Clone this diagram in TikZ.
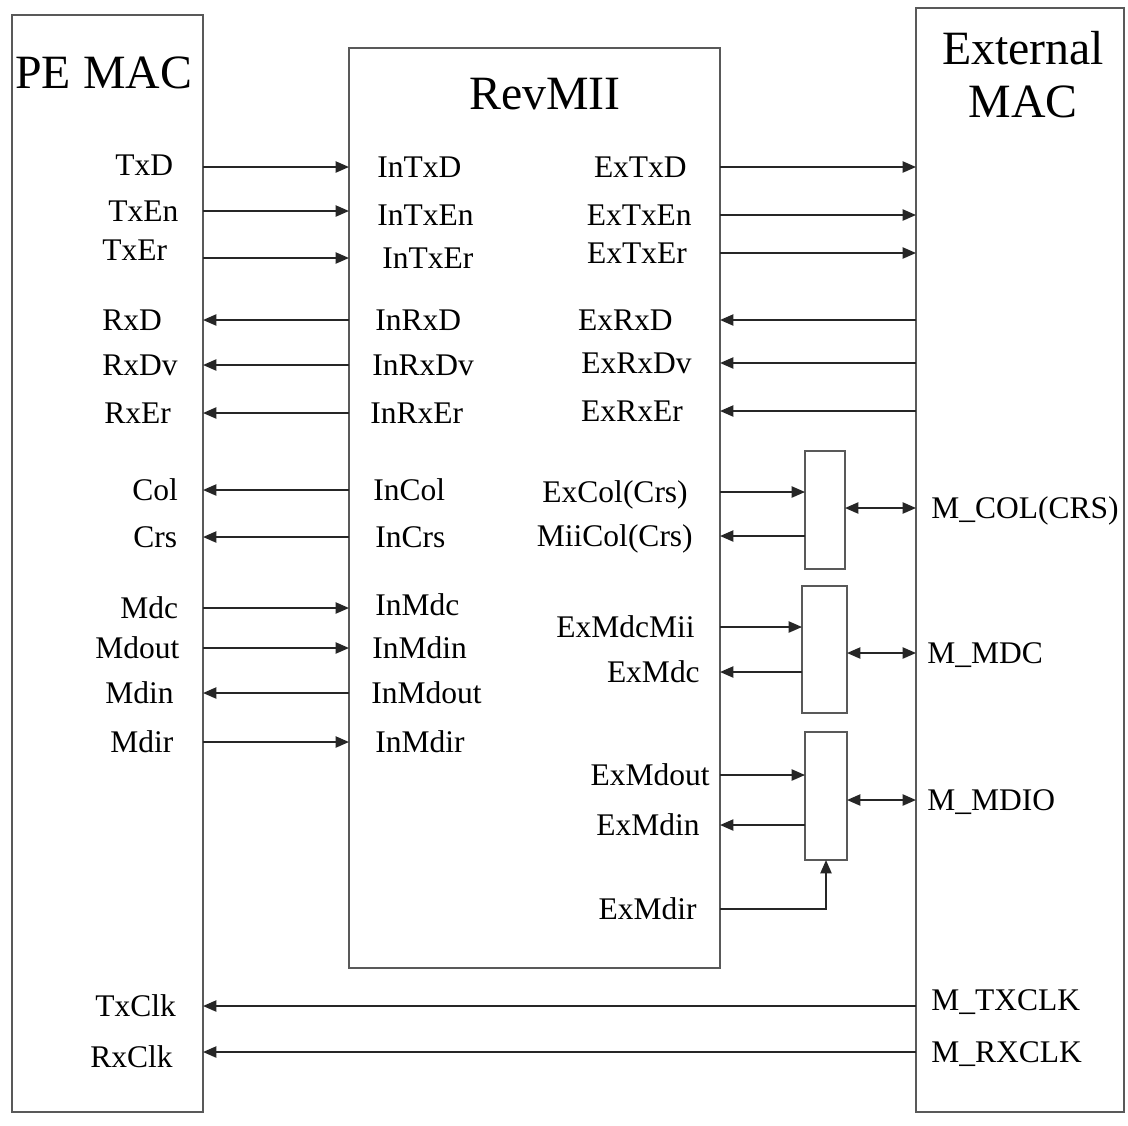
\documentclass[tikz,border=0pt]{standalone}
\usepackage{fontspec}
\setmainfont{Liberation Serif}
\usetikzlibrary{arrows.meta,positioning}

\tikzset{
  blk/.style={draw=black!65, line width=1.1pt, inner sep=0pt, outer sep=0pt},
  sig/.style={draw=black!85, line width=1.1pt, -{Triangle[length=9.5pt,width=8pt]}},
  bidir/.style={draw=black!85, line width=1.1pt, {Triangle[length=9.5pt,width=8pt]}-{Triangle[length=9.5pt,width=8pt]}},
  lbl/.style={inner sep=0pt, text height=14.8pt, text depth=0pt, font=\fontsize{22.4}{26}\selectfont},
  ttl/.style={inner sep=0pt, align=center, font=\fontsize{34}{37.7}\selectfont},
}

\begin{document}
\begin{tikzpicture}[x=0.025cm, y=-0.025cm]
    \useasboundingbox (0,0) rectangle (1128,1125);

    % Blocks
    \node[blk, minimum width=4.775cm, minimum height=27.425cm] (pe) at (107.5,563.5) {};
    \node[blk, minimum width=9.275cm, minimum height=23cm] (rev) at (534.5,508) {};
    \node[blk, minimum width=5.2cm, minimum height=27.6cm] (ext) at (1020,560) {};
    \node[ttl, anchor=west] (pe-title) at (15,73) {PE MAC};
    \node[ttl] (rev-title) at (545,94) {RevMII};
    \node[ttl] (ext-title) at (1023,75) {External\\MAC};

    % Muxes
    \node[blk, minimum width=1cm, minimum height=2.95cm] (colmux) at (825,510) {};
    \node[blk, minimum width=1.125cm, minimum height=3.175cm] (mdcmux) at (824.5,649.5) {};
    \node[blk, minimum width=1.05cm, minimum height=3.2cm] (mdiomux) at (826,796) {};

    % PE MAC signals
    \node[lbl, anchor=west] (txd) at (115,165) {TxD};
    \node[lbl, anchor=west] (txen) at (108,211) {TxEn};
    \node[lbl, anchor=west] (txer) at (102,250) {TxEr};
    \node[lbl, anchor=west] (rxd) at (102,320) {RxD};
    \node[lbl, anchor=west] (rxdv) at (102,365) {RxDv};
    \node[lbl, anchor=west] (rxer) at (104,413) {RxEr};
    \node[lbl, anchor=west] (col) at (132,490) {Col};
    \node[lbl, anchor=west] (crs) at (133,537) {Crs};
    \node[lbl, anchor=west] (mdc) at (120,608) {Mdc};
    \node[lbl, anchor=west] (mdout) at (95,648) {Mdout};
    \node[lbl, anchor=west] (mdin) at (105,693) {Mdin};
    \node[lbl, anchor=west] (mdir) at (110,742) {Mdir};
    \node[lbl, anchor=west] (txclk) at (95,1006) {TxClk};
    \node[lbl, anchor=west] (rxclk) at (90,1057) {RxClk};

    % RevMII inner side
    \node[lbl, anchor=west] (intxd) at (377,167) {InTxD};
    \node[lbl, anchor=west] (intxen) at (377,215) {InTxEn};
    \node[lbl, anchor=west] (intxer) at (382,258) {InTxEr};
    \node[lbl, anchor=west] (inrxd) at (375,320) {InRxD};
    \node[lbl, anchor=west] (inrxdv) at (372,365) {InRxDv};
    \node[lbl, anchor=west] (inrxer) at (370,413) {InRxEr};
    \node[lbl, anchor=west] (incol) at (373,490) {InCol};
    \node[lbl, anchor=west] (incrs) at (375,537) {InCrs};
    \node[lbl, anchor=west] (inmdc) at (375,605) {InMdc};
    \node[lbl, anchor=west] (inmdin) at (372,648) {InMdin};
    \node[lbl, anchor=west] (inmdout) at (371,693) {InMdout};
    \node[lbl, anchor=west] (inmdir) at (375,742) {InMdir};

    % RevMII external side
    \node[lbl, anchor=east] (extxd) at (687,167) {ExTxD};
    \node[lbl, anchor=east] (extxen) at (692,215) {ExTxEn};
    \node[lbl, anchor=east] (extxer) at (687,253) {ExTxEr};
    \node[lbl, anchor=east] (exrxd) at (673,320) {ExRxD};
    \node[lbl, anchor=east] (exrxdv) at (692,363) {ExRxDv};
    \node[lbl, anchor=east] (exrxer) at (683,411) {ExRxEr};
    \node[lbl, anchor=east] (excol) at (688,492) {ExCol(Crs)};
    \node[lbl, anchor=east] (miicol) at (693,536) {MiiCol(Crs)};
    \node[lbl, anchor=east] (exmdcmii) at (695,627) {ExMdcMii};
    \node[lbl, anchor=east] (exmdc) at (700,672) {ExMdc};
    \node[lbl, anchor=east] (exmdout) at (710,775) {ExMdout};
    \node[lbl, anchor=east] (exmdin) at (700,825) {ExMdin};
    \node[lbl, anchor=east] (exmdir) at (697,909) {ExMdir};

    % External MAC signals
    \node[lbl, anchor=west] (mcol) at (931,508) {M\_COL(CRS)};
    \node[lbl, anchor=west] (mmdc) at (927,653) {M\_MDC};
    \node[lbl, anchor=west] (mmdio) at (927,800) {M\_MDIO};
    \node[lbl, anchor=west] (mtxclk) at (931,1000) {M\_TXCLK};
    \node[lbl, anchor=west] (mrxclk) at (931,1052) {M\_RXCLK};

    % PE MAC <-> RevMII
    \draw[sig] (pe.east |- intxd) -- (rev.west |- intxd);
    \draw[sig] (pe.east |- txen) -- (rev.west |- txen);
    \draw[sig] (pe.east |- intxer) -- (rev.west |- intxer);
    \draw[sig] (rev.west |- rxd) -- (pe.east |- rxd);
    \draw[sig] (rev.west |- rxdv) -- (pe.east |- rxdv);
    \draw[sig] (rev.west |- rxer) -- (pe.east |- rxer);
    \draw[sig] (rev.west |- col) -- (pe.east |- col);
    \draw[sig] (rev.west |- crs) -- (pe.east |- crs);
    \draw[sig] (pe.east |- mdc) -- (rev.west |- mdc);
    \draw[sig] (pe.east |- mdout) -- (rev.west |- mdout);
    \draw[sig] (rev.west |- mdin) -- (pe.east |- mdin);
    \draw[sig] (pe.east |- mdir) -- (rev.west |- mdir);

    % RevMII <-> External MAC
    \draw[sig] (rev.east |- extxd) -- (ext.west |- extxd);
    \draw[sig] (rev.east |- extxen) -- (ext.west |- extxen);
    \draw[sig] (rev.east |- extxer) -- (ext.west |- extxer);
    \draw[sig] (ext.west |- exrxd) -- (rev.east |- exrxd);
    \draw[sig] (ext.west |- exrxdv) -- (rev.east |- exrxdv);
    \draw[sig] (ext.west |- exrxer) -- (rev.east |- exrxer);

    % Muxes
    \draw[sig] (rev.east |- excol) -- (colmux.west |- excol);
    \draw[sig] (colmux.west |- miicol) -- (rev.east |- miicol);
    \draw[bidir] (colmux.east |- mcol) -- (ext.west |- mcol);
    \draw[sig] (rev.east |- exmdcmii) -- (mdcmux.west |- exmdcmii);
    \draw[sig] (mdcmux.west |- exmdc) -- (rev.east |- exmdc);
    \draw[bidir] (mdcmux.east |- mmdc) -- (ext.west |- mmdc);
    \draw[sig] (rev.east |- exmdout) -- (mdiomux.west |- exmdout);
    \draw[sig] (mdiomux.west |- exmdin) -- (rev.east |- exmdin);
    \draw[bidir] (mdiomux.east |- mmdio) -- (ext.west |- mmdio);
    \draw[sig] (rev.east |- exmdir) -| (mdiomux.south);

    % Clocks
    \draw[sig] (ext.west |- txclk) -- (pe.east |- txclk);
    \draw[sig] (ext.west |- mrxclk) -- (pe.east |- mrxclk);
\end{tikzpicture}
\end{document}
